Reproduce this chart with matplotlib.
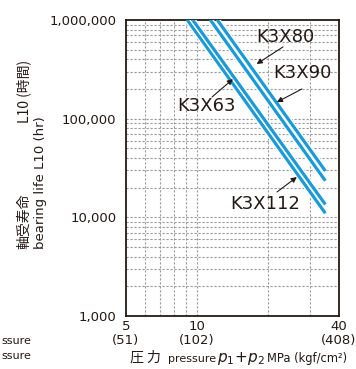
import matplotlib
matplotlib.use("Agg")
import matplotlib.pyplot as plt
import matplotlib.patheffects as pe
from matplotlib.ticker import NullFormatter

# Данні: лінії ресурсу підшипника (тиск МПа, ресурс L10 год)
models = ["K3X63", "K3X112", "K3X90", "K3X80"]
pressure = [[9.1, 35], [9.6, 35], [11.4, 35], [12.2, 35]]
life = [[1e6, 11000], [1e6, 13500], [1e6, 23500], [1e6, 29500]]

x_ticks = [5, 10, 40]
x_tick_labels = ["5\n(51)", "10\n(102)", "40\n(408)"]
x_grid = [6, 7, 8, 9, 10, 20, 30]
y_ticks = [1e3, 1e4, 1e5, 1e6]
y_tick_labels = ["1,000", "10,000", "100,000", "1,000,000"]

# Підписи моделей: (позиція тексту, хвіст стрілки) в частках осей, вістря в даних
label_pos = {"K3X80": (0.746, 0.943), "K3X90": (0.826, 0.821),
             "K3X63": (0.380, 0.709), "K3X112": (0.653, 0.378)}
arrow_tail = {"K3X80": (0.737, 0.909), "K3X90": (0.826, 0.767),
              "K3X63": (0.404, 0.740), "K3X112": (0.709, 0.419)}
arrow_tip = {"K3X80": (17.9, 358000), "K3X90": (21.8, 147000),
             "K3X63": (14.2, 252000), "K3X112": (26.5, 25600)}

BLUE = "#1a9ad8"
INK = "#231815"
CJK = ["Noto Sans CJK JP", "DejaVu Sans"]
plt.rcParams["font.family"] = ["DejaVu Sans", "Noto Sans CJK JP"]

W, H = 356, 369
fig = plt.figure(figsize=(W / 100, H / 100), dpi=100)
ax = fig.add_axes([126 / W, 1 - 316 / H, 213 / W, 296 / H])

ax.set_xscale("log")
ax.set_yscale("log")
ax.set_xlim(5, 40)
ax.set_ylim(1e3, 1e6)

# Сітка
for gx in x_grid:
    ax.axvline(gx, color="#999999", lw=0.8, ls=(0, (2, 1.6)), zorder=1)
for dec in [1e3, 1e4, 1e5]:
    for k in range(1, 10):
        if dec * k > 1e3:
            ax.axhline(dec * k, color="#999999", lw=0.8, ls=(0, (2, 1.6)), zorder=1)

# Лінії
for m, p, l in zip(models, pressure, life):
    ax.plot(p, l, color=BLUE, lw=2.3, solid_capstyle="butt", zorder=3,
            path_effects=[pe.Stroke(linewidth=4.2, foreground="white"), pe.Normal()])

# Підписи та стрілки
for m in models:
    ax.text(*label_pos[m], m, transform=ax.transAxes, ha="center", va="center",
            fontsize=13, color=INK, zorder=5)
    ax.annotate("", xy=arrow_tip[m], xycoords="data",
                xytext=arrow_tail[m], textcoords="axes fraction",
                arrowprops=dict(arrowstyle="-|>", color=INK, lw=0.8,
                                mutation_scale=8, shrinkA=0, shrinkB=0), zorder=5)

ax.set_xticks(x_ticks)
ax.set_xticklabels(x_tick_labels, fontsize=9.5, linespacing=1.05)
ax.xaxis.set_minor_formatter(NullFormatter())
ax.set_yticks(y_ticks)
ax.set_yticklabels(y_tick_labels, fontsize=9.5)
ax.yaxis.set_minor_formatter(NullFormatter())
ax.tick_params(which="both", length=0, colors=INK)
ax.tick_params(axis="y", pad=7)
ax.tick_params(axis="x", pad=3)
for s in ax.spines.values():
    s.set_linewidth(1.3)
    s.set_color(INK)

# Підпис осі Y
fig.text(24 / W, 1 - 249 / H, "軸受寿命", rotation=90, family=CJK, fontsize=10,
         ha="center", va="bottom", color=INK)
fig.text(24 / W, 1 - 60 / H, "L10 (時間)", rotation=90, family=CJK, fontsize=10,
         ha="center", va="top", color=INK)
fig.text(41 / W, 1 - 249 / H, "bearing life L10 (hr)", rotation=90, fontsize=9.5,
         ha="center", va="bottom", color=INK)

# Підпис осі X
yb = 1 - 362 / H
fig.text(130 / W, yb, "圧 力", family=CJK, fontsize=10, ha="left", va="baseline", color=INK)
fig.text(168 / W, yb, "pressure", fontsize=8, ha="left", va="baseline", color=INK)
fig.text(217 / W, yb, r"$p_1\!+\!p_2$", fontsize=11, ha="left", va="baseline", color=INK)
fig.text(267 / W, yb, "MPa (kgf/cm²)", fontsize=8.3, ha="left", va="baseline", color=INK)

# Залишки тексту зліва внизу (у зразку видно лише кінці слів)
fig.text(31 / W, 1 - 344 / H, "ssure", fontsize=8, ha="right", va="baseline", color=INK)
fig.text(31 / W, 1 - 359 / H, "ssure", fontsize=8, ha="right", va="baseline", color=INK)

fig.savefig("out.png", dpi=100)
